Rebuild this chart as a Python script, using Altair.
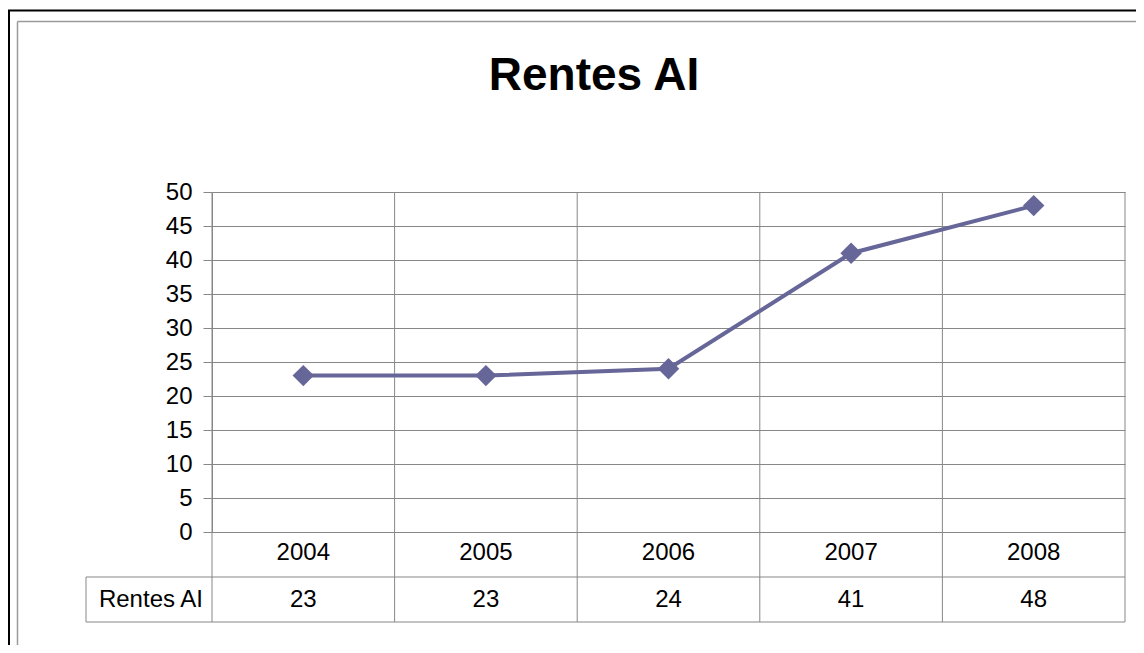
import altair as alt
import pandas as pd

# ---- data ----
years = ["2004", "2005", "2006", "2007", "2008"]
values = [23, 23, 24, 41, 48]
y_ticks = [0, 5, 10, 15, 20, 25, 30, 35, 40, 45, 50]
series_name = "Rentes AI"
title_text = "Rentes AI"

df = pd.DataFrame({"year": years, "value": values})
df["label"] = [str(v) for v in values]
one = pd.DataFrame({"a": [0]})

W, H = 913, 340
FONT = "Liberation Sans"
GRID = "#878787"
LINE = "#666699"
PAD_R, PAD_B = 11, 113
XMAX = W + PAD_R
YMAX = H + PAD_B

xscale = alt.Scale(type="band", domain=years, paddingInner=0, paddingOuter=0)

def xcenter():
    return alt.X("year:N", scale=xscale, axis=None, bandPosition=0.5)

def yenc():
    return alt.Y(
        "value:Q",
        scale=alt.Scale(domain=[0, 50], nice=False, zero=True),
        axis=alt.Axis(
            values=y_ticks, tickCount=11, title=None, grid=True, gridColor=GRID, gridWidth=1,
            domainColor=GRID, tickColor=GRID, tickSize=9, labelFontSize=24,
            labelColor="black", labelFont=FONT, labelPadding=11,
            labelOverlap=False, labelBound=False,
        ),
    )

line = alt.Chart(df).mark_line(color=LINE, strokeWidth=4).encode(x=xcenter(), y=yenc())
pts = alt.Chart(df).mark_point(shape="diamond", filled=True, size=460, color=LINE, opacity=1).encode(x=xcenter(), y=yenc())

# category boundaries (vertical grid through plot and data table)
vgrid = alt.Chart(df).mark_rule(color=GRID, strokeWidth=1).encode(
    x=alt.X("year:N", scale=xscale, axis=None, bandPosition=0),
    y=alt.value(0), y2=alt.value(430),
)

def rule(x, x2, y, y2, color, w):
    return alt.Chart(one).mark_rule(color=color, strokeWidth=w).encode(
        x=alt.value(x), x2=alt.value(x2), y=alt.value(y), y2=alt.value(y2)
    )

right_edge = rule(W, W, 0, 430, GRID, 1)
row1 = rule(-126, W, 385, 385, GRID, 1)
row2 = rule(-126, W, 430, 430, GRID, 1)
hdr = rule(-126, -126, 385, 430, GRID, 1)

# chart area borders
b_top = rule(-206, XMAX + 10, -181.5, -181.5, "black", 2)
b_left = rule(-203, -203, -181.5, YMAX + 10, "black", 2)
g_top = rule(-194.5, XMAX + 10, -170.5, -170.5, "#9a9a9a", 1.5)
g_left = rule(-194.5, -194.5, -170.5, YMAX + 10, "#9a9a9a", 1.5)

# data table texts
yr_txt = alt.Chart(df).mark_text(fontSize=24, font=FONT, color="black", baseline="middle").encode(
    x=xcenter(), y=alt.value(361), text="year:N"
)
val_txt = alt.Chart(df).mark_text(fontSize=24, font=FONT, color="black", baseline="middle").encode(
    x=xcenter(), y=alt.value(408), text="label:N"
)
name_txt = alt.Chart(pd.DataFrame({"t": [series_name]})).mark_text(
    fontSize=24, font=FONT, color="black", baseline="middle", align="right"
).encode(x=alt.value(-9), y=alt.value(408), text="t:N")

title = alt.Chart(pd.DataFrame({"t": [title_text]})).mark_text(
    fontSize=46, font=FONT, fontWeight="bold", color="black", baseline="alphabetic", align="center"
).encode(x=alt.value(382), y=alt.value(-102), text="t:N")

chart = alt.layer(
    b_top, b_left, g_top, g_left,
    vgrid, right_edge, row1, row2, hdr,
    line, pts, yr_txt, val_txt, name_txt, title,
).properties(
    width=W, height=H,
    autosize=alt.AutoSizeParams(type="none"),
    padding={"left": 204, "top": 184, "right": PAD_R, "bottom": PAD_B},
    background="white",
).configure_view(stroke=None)

chart.save("out.html", embed_options={"renderer": "svg", "actions": False})
